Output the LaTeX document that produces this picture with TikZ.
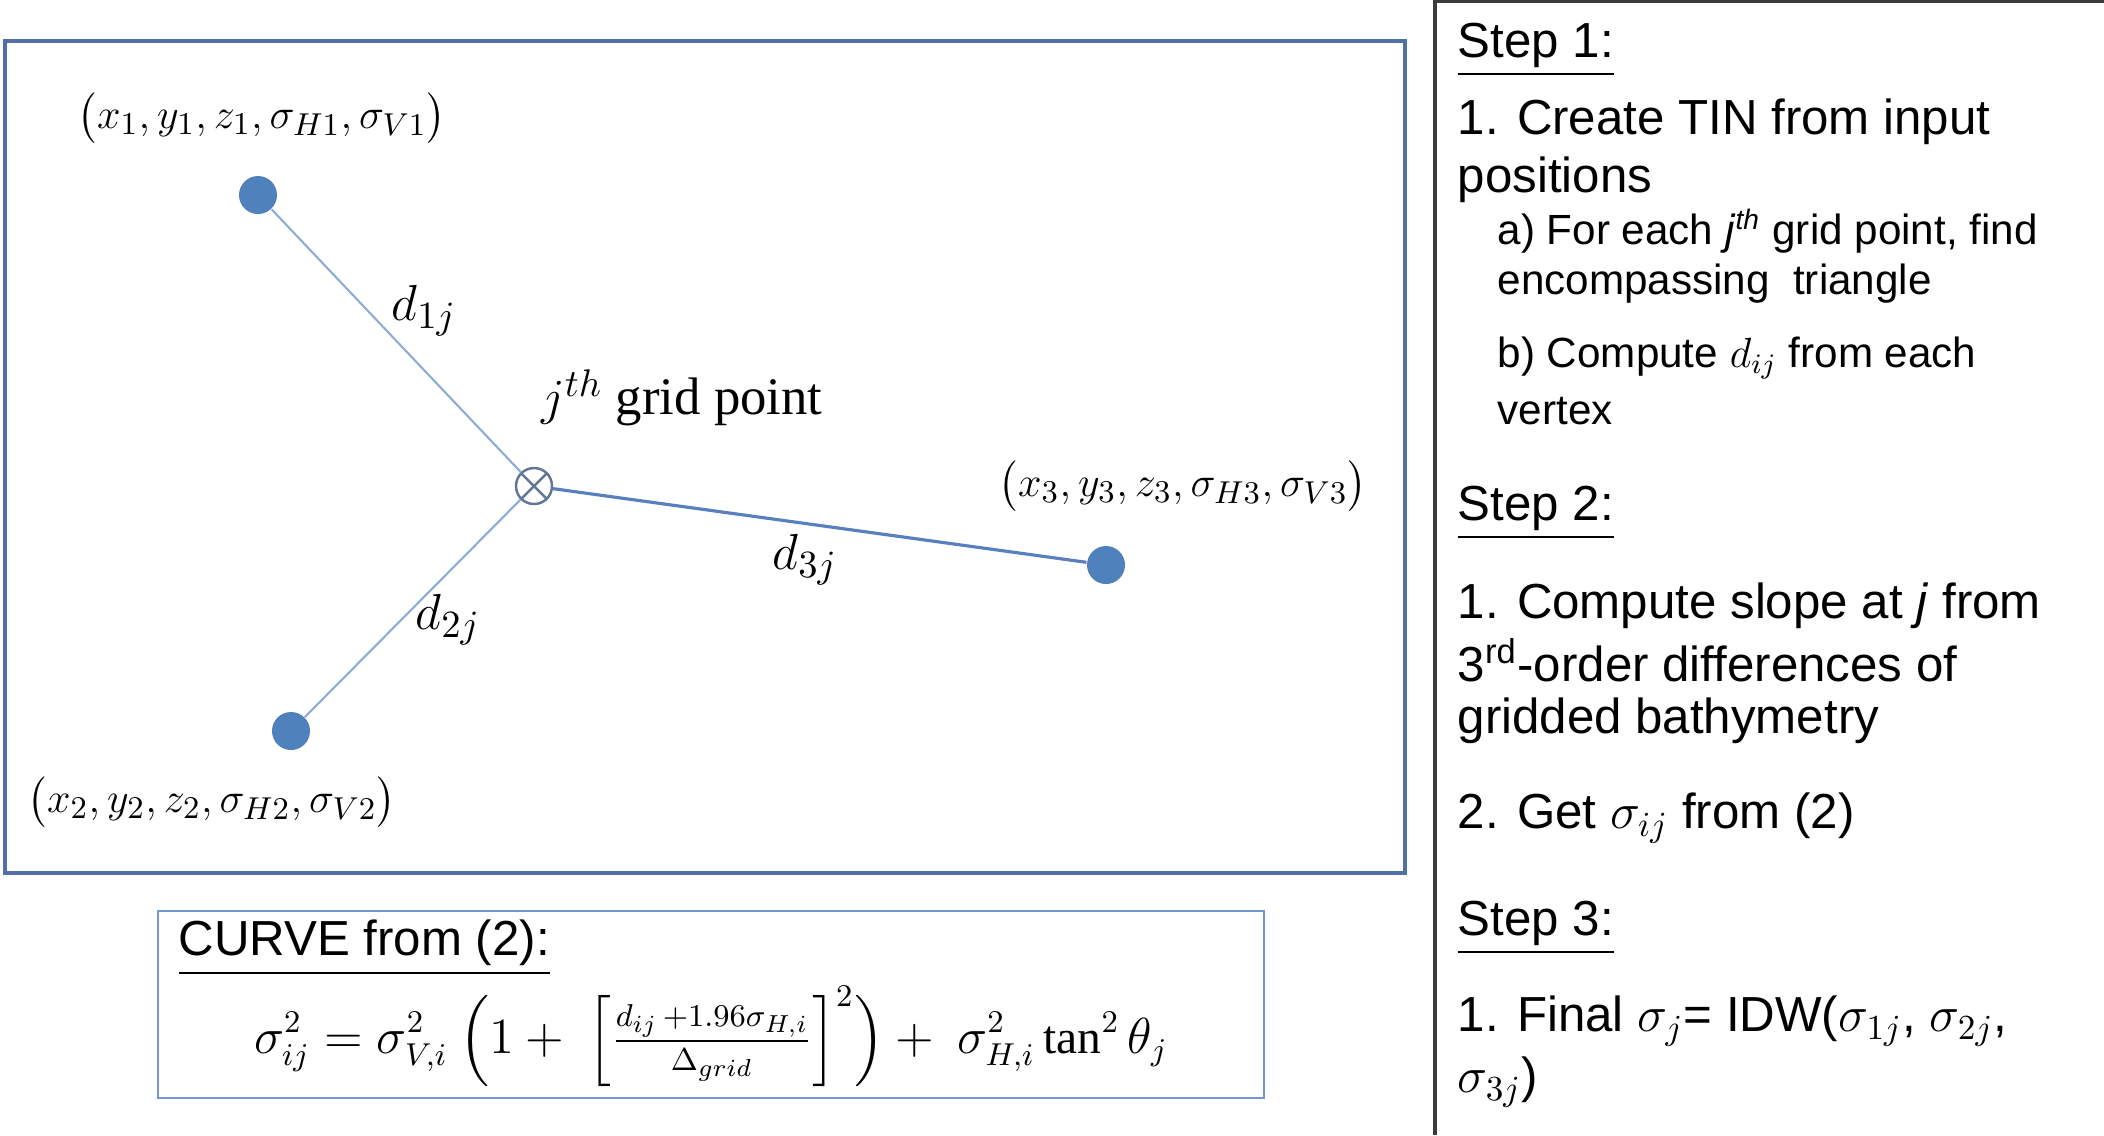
\documentclass[tikz,border=0pt]{standalone}
\usepackage{amsmath}
\usepackage{fontspec}
\setmainfont{Liberation Serif}
\setsansfont{Liberation Sans}
\usetikzlibrary{positioning}

\definecolor{frameblue}{RGB}{79,113,168}
\definecolor{curveblue}{RGB}{112,152,214}
\definecolor{dotblue}{RGB}{79,129,189}
\definecolor{lineblue}{RGB}{141,172,214}
\definecolor{darkline}{RGB}{88,128,190}
\definecolor{crossgray}{RGB}{98,118,150}
\definecolor{panelgray}{RGB}{60,60,60}

\begin{document}
\begin{tikzpicture}[x=0.01cm, y=-0.01cm,
	sample/.style={circle, fill=dotblue, minimum size=0.38cm, inner sep=0pt},
	gridpt/.style={circle, draw=crossgray, line width=0.7pt, minimum size=0.36cm, inner sep=0pt},
	link/.style={draw=lineblue, line width=0.6pt},
	coordlbl/.style={font=\fontsize{13}{15}\selectfont, inner sep=0pt},
	distlbl/.style={font=\fontsize{15}{17}\selectfont, inner sep=0pt},
	steptext/.style={anchor=west, font=\sffamily\fontsize{14}{16}\selectfont, inner sep=0pt},
	subtext/.style={anchor=west, font=\sffamily\fontsize{12}{14}\selectfont, inner sep=0pt}]
	\useasboundingbox (0,0) rectangle (2104,1135);

	% frames
	\draw[frameblue, line width=0.9pt] (5,41) rectangle (1405,873);
	\draw[curveblue, line width=0.75pt] (158,911) rectangle (1264,1098);
	\draw[panelgray, line width=0.9pt] (1435,1135) -- (1435,1) -- (2104,1);

	% samples and grid point
	\node[sample] (P1) at (258,195) {};
	\node[sample] (P2) at (291,731) {};
	\node[sample] (P3) at (1106,565) {};
	\node[gridpt] (J) at (534,486) {};
	\draw[crossgray, line width=0.7pt] (J.north west) -- (J.south east) (J.north east) -- (J.south west);
	\draw[link] (J) -- (P1);
	\draw[link] (J) -- (P2);
	\draw[link, draw=darkline, line width=0.9pt] (J) -- (P3);

	\node[coordlbl] (L1) at (262,118) {$\bigl(x_1, y_1, z_1, \sigma_{H1}, \sigma_{V1}\bigr)$};
	\node[coordlbl] (L2) at (212,802) {$\bigl(x_2, y_2, z_2, \sigma_{H2}, \sigma_{V2}\bigr)$};
	\node[coordlbl] (L3) at (1183,486) {$\bigl(x_3, y_3, z_3, \sigma_{H3}, \sigma_{V3}\bigr)$};
	\node[distlbl] (D1) at (424,311) {$d_{1j}$};
	\node[distlbl] (D2) at (448,620) {$d_{2j}$};
	\node[distlbl] (D3) at (805,560) {$d_{3j}$};
	\node[font=\fontsize{15}{17}\selectfont, inner sep=0pt] (JL) at (682,398) {$j^{th}$ grid point};

	% curve
	\node[anchor=west, font=\sffamily\fontsize{14}{16}\selectfont, inner sep=0pt] (CT) at (178,948) {\underline{CURVE from (2):}};
	\node[font=\fontsize{13.5}{16}\selectfont, inner sep=0pt] (CF) at (711,1036)
		{$\displaystyle \sigma_{ij}^2 = \sigma_{V,i}^2\ \Bigl(1+\ \Bigl[\tfrac{d_{ij}\,+1.96\sigma_{H,i}}{\Delta_{grid}}\Bigr]^2\Bigr)+\ \sigma_{H,i}^2\tan^2\theta_j$};

	% steps
	\node[steptext] (S1) at (1457,50) {\underline{Step 1:}};
	\node[steptext] (S1i) at (1457,122) {1. Create TIN from input};
	\node[steptext] (S1ii) at (1457,180) {positions};
	\node[subtext] (S1a) at (1497,231) {a) For each \textit{j}\textsuperscript{\textit{th}} grid point, find};
	\node[subtext] (S1aa) at (1497,284) {encompassing\ \ triangle};
	\node[subtext] (S1b) at (1497,358) {b) Compute $d_{ij}$ from each};
	\node[subtext] (S1bb) at (1497,411) {vertex};

	\node[steptext] (S2) at (1457,513) {\underline{Step 2:}};
	\node[steptext] (S2i) at (1457,606) {1. Compute slope at \textit{j} from};
	\node[steptext] (S2ii) at (1457,660) {3\textsuperscript{rd}-order differences of};
	\node[steptext] (S2iii) at (1457,721) {gridded bathymetry};
	\node[steptext] (S2iv) at (1457,818) {2. Get $\sigma_{ij}$ from (2)};

	\node[steptext] (S3) at (1457,928) {\underline{Step 3:}};
	\node[steptext] (S3i) at (1457,1021) {1. Final $\sigma_j$= IDW($\sigma_{1j}$, $\sigma_{2j}$,};
	\node[steptext] (S3ii) at (1457,1082) {$\sigma_{3j}$)};
\end{tikzpicture}
\end{document}
